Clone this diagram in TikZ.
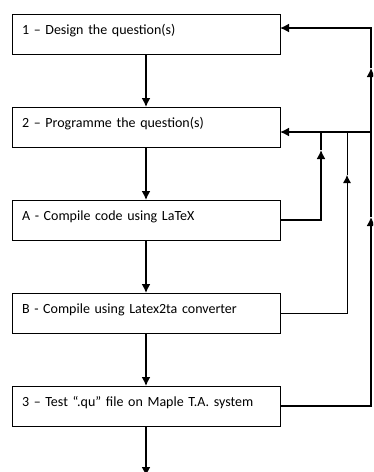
\documentclass[tikz,border=0pt]{standalone}
\usepackage{fontspec}
\setmainfont{Carlito}
\usetikzlibrary{positioning}
\usetikzlibrary{arrows.meta}
\usetikzlibrary{calc}

\tikzset{
  stepbox/.style={draw, line width=0.8pt, minimum width=268pt, text width=248pt,
    inner xsep=10pt, inner ysep=0pt, text height=20pt, text depth=20pt,
    align=left, outer sep=0pt, font=\fontsize{14}{16}\selectfont},
  flow/.style={line width=1.6pt, -{Latex[length=9pt,width=9pt]}},
  back/.style={line width=1.6pt},
  thinback/.style={line width=0.8pt},
}

\begin{document}
\begin{tikzpicture}[x=1pt, y=-1pt, node distance=53pt]

     \useasboundingbox (0,0) rectangle (373,472);
     \clip (0,0) rectangle (373,472);

     % nodes
     \node[stepbox, anchor=north west] (design) at (12,14) {1 -- Design the question(s)};%
     \node[stepbox, below=of design] (prog) {2 -- Programme the question(s)};%
     \node[stepbox, below=of prog] (latex) {A - Compile code using LaTeX};%
     \node[stepbox, below=of latex] (conv) {B - Compile using Latex2ta converter};%
     \node[stepbox, below=of conv] (test) {3 -- Test ``.qu'' file on Maple T.A. system};%

     % rails on the right
     \coordinate (inD) at ($(design.north east)+(0,14)$);
     \coordinate (inP) at ($(prog.north east)+(0,25)$);
     \coordinate (railA) at (321,150);
     \coordinate (railB) at (347,175);
     \coordinate (outerlow) at (371,217);
     \coordinate (outerhigh) at (371,68);
     \coordinate (stop) at ($(test.south)+(0,50)$);

     % edges
     \draw[flow] (design) -- (prog);
     \draw[flow] (prog) -- (latex);
     \draw[flow] (latex) -- (conv);
     \draw[flow] (conv) -- (test);
     \draw[flow] (test) -- (stop);

     % feedback
     \draw[flow] (latex.east) -| (railA);
     \draw[back] (railA) -- (railA |- inP);
     \draw[thinback, -{Latex[length=8pt,width=8pt]}] (conv.east) -| (railB);
     \draw[thinback] (railB) -- (railB |- inP);
     \draw[flow] (test.east) -| (outerlow);
     \draw[flow] (outerlow) -- (outerhigh);
     \draw[flow] (outerhigh) |- (inD);
     \draw[flow] (outerhigh |- inP) -- (inP);

\end{tikzpicture}
\end{document}
